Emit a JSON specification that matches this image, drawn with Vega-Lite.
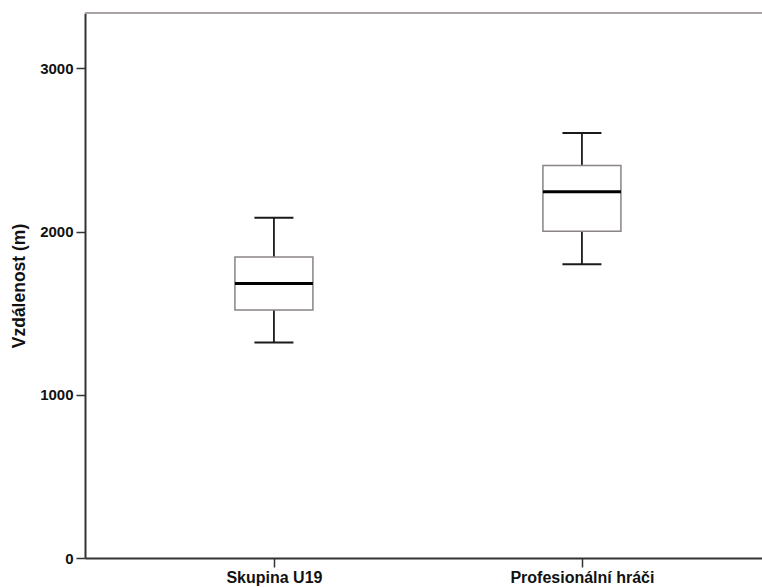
{
  "$schema": "https://vega.github.io/schema/vega-lite/v6.json",
  "usermeta": {"embedOptions": {"actions": false}},
  "autosize": "none",
  "width": 677,
  "height": 545,
  "padding": {"left": 85, "top": 13, "right": 0, "bottom": 29},
  "background": "white",
  "view": {"stroke": "transparent", "strokeWidth": 0},
  "config": {
    "view": {"stroke": "transparent", "strokeWidth": 0},
    "axis": {
      "domainColor": "#333333",
      "domainWidth": 2,
      "tickColor": "#333333",
      "tickWidth": 1.5,
      "tickSize": 9,
      "grid": false,
      "labelFont": "Liberation Sans",
      "labelFontWeight": "bold",
      "labelColor": "#111111",
      "titleFont": "Liberation Sans",
      "titleFontWeight": "bold",
      "titleColor": "#111111"
    }
  },
  "data": {
    "values": [
      {"group": "Skupina U19", "lower": 1320, "q1": 1520, "median": 1682, "q3": 1845, "upper": 2085},
      {"group": "Profesionální hráči", "lower": 1800, "q1": 2002, "median": 2244, "q3": 2405, "upper": 2605}
    ]
  },
  "encoding": {
    "x": {
      "field": "group",
      "type": "nominal",
      "sort": ["Skupina U19", "Profesionální hráči"],
      "scale": {"type": "point", "padding": 0.599, "align": 0.512},
      "axis": {"title": null, "labelAngle": 0, "labelFontSize": 16, "labelPadding": 2}
    }
  },
  "layer": [
    {
      "mark": {"type": "rule", "color": "#aca4a4", "strokeWidth": 2},
      "encoding": {"y": {"datum": 3340, "type": "quantitative"}, "x": null}
    },
    {
      "mark": {"type": "rule", "color": "#1a1a1a", "strokeWidth": 1.8},
      "encoding": {
        "y": {
          "field": "lower",
          "type": "quantitative",
          "scale": {"domain": [0, 3340], "nice": false, "zero": false},
          "axis": {
            "title": "Vzdálenost (m)",
            "titleFontSize": 17.5,
            "titlePadding": 11,
            "values": [0, 1000, 2000, 3000],
            "format": "d",
            "labelFontSize": 15,
            "labelPadding": 3
          }
        },
        "y2": {"field": "upper"}
      }
    },
    {
      "mark": {"type": "bar", "size": 78, "fill": "white", "stroke": "#8a8484", "strokeWidth": 1.5},
      "encoding": {
        "y": {"field": "q1", "type": "quantitative"},
        "y2": {"field": "q3"}
      }
    },
    {
      "mark": {"type": "tick", "size": 78, "thickness": 3, "color": "#000000", "opacity": 1},
      "encoding": {"y": {"field": "median", "type": "quantitative"}}
    },
    {
      "mark": {"type": "tick", "size": 39, "thickness": 2, "color": "#1a1a1a", "opacity": 1},
      "encoding": {"y": {"field": "lower", "type": "quantitative"}}
    },
    {
      "mark": {"type": "tick", "size": 39, "thickness": 2, "color": "#1a1a1a", "opacity": 1},
      "encoding": {"y": {"field": "upper", "type": "quantitative"}}
    }
  ]
}
